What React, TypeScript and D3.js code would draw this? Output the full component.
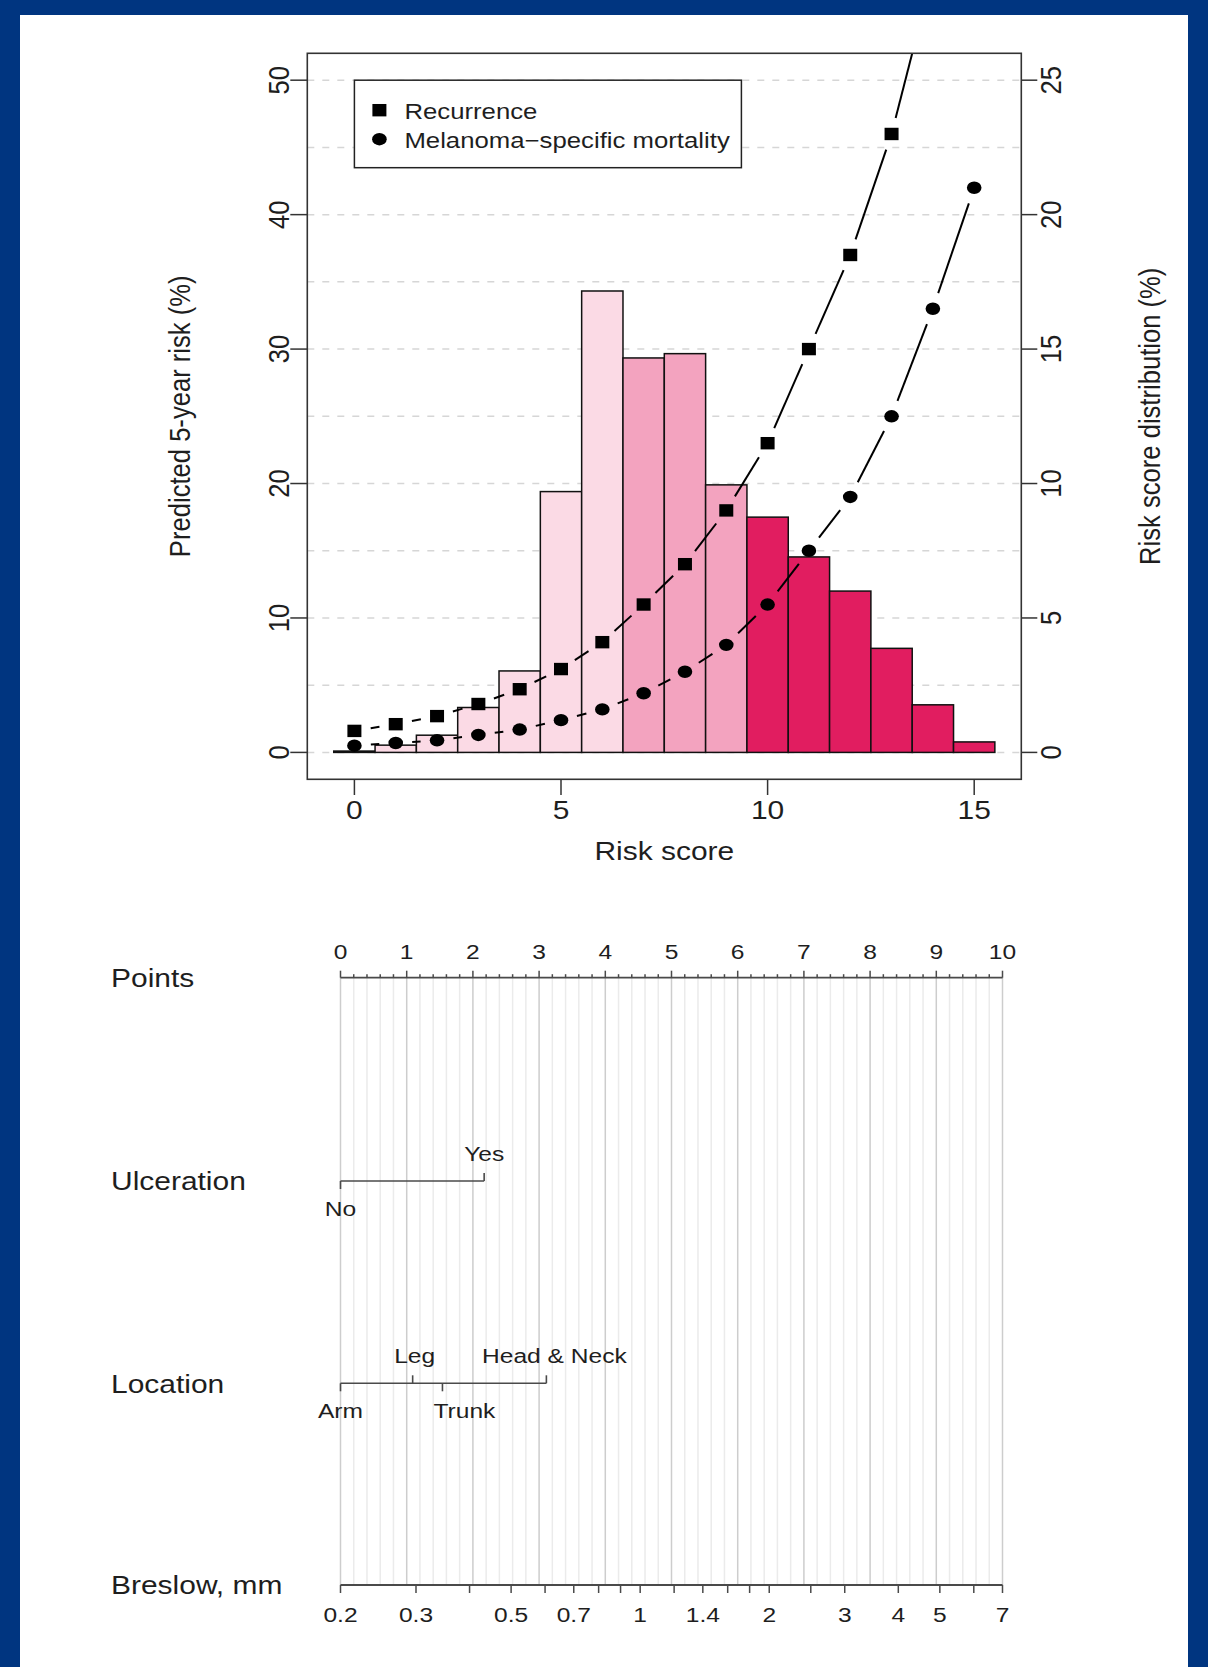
import React from "react";
import * as d3 from "d3";

// risk score histogram + predicted risk curves
const riskScore = [0, 1, 2, 3, 4, 5, 6, 7, 8, 9, 10, 11, 12, 13, 14, 15];
const scoreDistribution = [0.05, 0.27, 0.64, 1.67, 3.03, 9.7, 17.16, 14.67, 14.83, 9.95, 8.75, 7.27, 6.0, 3.87, 1.77, 0.39];
const riskGroup = ["low", "low", "low", "low", "low", "low", "low", "mid", "mid", "mid", "high", "high", "high", "high", "high", "high"];
const recurrenceScore = [0, 1, 2, 3, 4, 5, 6, 7, 8, 9, 10, 11, 12, 13, 14];
const recurrenceRisk = [1.6, 2.1, 2.7, 3.6, 4.7, 6.2, 8.2, 11.0, 14.0, 18.0, 23.0, 30.0, 37.0, 46.0, 58.0];
const mortalityRisk = [0.5, 0.7, 0.9, 1.3, 1.7, 2.4, 3.2, 4.4, 6.0, 8.0, 11.0, 15.0, 19.0, 25.0, 33.0, 42.0];
const xTicks = [0, 5, 10, 15];
const leftTicks = [0, 10, 20, 30, 40, 50];
const rightTicks = [0, 5, 10, 15, 20, 25];
const gridValues = [0, 5, 10, 15, 20, 25, 30, 35, 40, 45, 50];
const legendLabels = ["Recurrence", "Melanoma\u2212specific mortality"];

// nomogram
const pointsTicks = [0, 1, 2, 3, 4, 5, 6, 7, 8, 9, 10];
const ulcerationLevels = ["No", "Yes"];
const ulcerationPoints = [0, 2.17];
const locationLevels = ["Arm", "Leg", "Trunk", "Head & Neck"];
const locationPoints = [0, 1.09, 1.54, 3.11];
const breslowTicks = [0.2, 0.3, 0.4, 0.5, 0.6, 0.7, 0.8, 0.9, 1, 1.2, 1.4, 1.6, 1.8, 2, 2.5, 3, 4, 5, 6, 7];
const breslowLabels = [0.2, 0.3, 0.5, 0.7, 1, 1.4, 2, 3, 4, 5, 7];

const colors = { low: "#FBDAE5", mid: "#F3A3BF", high: "#E11D60" };
const FONT = "'Liberation Sans', Arial, Helvetica, sans-serif";
const SX = 1.17; // text in the picture is stretched sideways
const INK = "#1e1e1e";

function T({ x, y, size, anchor = "middle", rotate = false, children }: any) {
  const tr = `translate(${x},${y}) scale(${SX},1)` + (rotate ? " rotate(-90)" : "");
  return (
    <text transform={tr} fontSize={size} textAnchor={anchor} fontFamily={FONT} fill={INK}>
      {children}
    </text>
  );
}

// type="b" style: segments between points, with a gap round each point
function gapSegments(pts: number[][], gap: number) {
  const out: number[][] = [];
  for (let i = 0; i < pts.length - 1; i++) {
    const [x1, y1] = pts[i];
    const [x2, y2] = pts[i + 1];
    const len = Math.hypot(x2 - x1, y2 - y1);
    if (len <= 2 * gap) continue;
    const ux = (x2 - x1) / len, uy = (y2 - y1) / len;
    out.push([x1 + ux * gap, y1 + uy * gap, x2 - ux * gap, y2 - uy * gap]);
  }
  return out;
}

function Square({ cx, cy }: any) {
  return <rect x={cx - 7} y={cy - 6.2} width={14} height={12.4} fill="#000" />;
}
function Dot({ cx, cy }: any) {
  return <ellipse cx={cx} cy={cy} rx={7.3} ry={6.2} fill="#000" />;
}

function RiskChart() {
  const left = 307.3, right = 1021.3, top = 53.3, bottom = 779.3;
  const x = d3.scaleLinear().domain([-1.14, 16.14]).range([left, right]);
  const yL = d3.scaleLinear().domain([-2, 52]).range([bottom, top]);
  const yR = d3.scaleLinear().domain([-1, 26]).range([bottom, top]);
  const tickF = 25.6;
  const half = 0.358 * tickF * SX;

  const recPts = recurrenceScore.map((s, i) => [x(s), yL(recurrenceRisk[i])]);
  const morPts = riskScore.map((s, i) => [x(s), yL(mortalityRisk[i])]);
  const lx = x(0), ly = yL(50);

  return (
    <g>
      <defs>
        <clipPath id="plotClip">
          <rect x={left} y={top} width={right - left} height={bottom - top} />
        </clipPath>
      </defs>
      {gridValues.map((v) => (
        <line key={v} x1={left} x2={right} y1={yL(v)} y2={yL(v)} stroke="#d6d6d6" strokeWidth={1.5} strokeDasharray="7,8" />
      ))}
      {riskScore.map((s, i) => (
        <rect
          key={s}
          x={x(s - 0.5)}
          y={yR(scoreDistribution[i])}
          width={x(s + 0.5) - x(s - 0.5)}
          height={yR(0) - yR(scoreDistribution[i])}
          fill={colors[riskGroup[i]]}
          stroke="#111"
          strokeWidth={1.5}
        />
      ))}
      <g clipPath="url(#plotClip)">
        {[recPts, morPts].map((pts, k) =>
          gapSegments(pts, 16.5).map((sg, j) => (
            <line key={k + "-" + j} x1={sg[0]} y1={sg[1]} x2={sg[2]} y2={sg[3]} stroke="#000" strokeWidth={2} />
          ))
        )}
        {recPts.map((p, i) => <Square key={"r" + i} cx={p[0]} cy={p[1]} />)}
        {morPts.map((p, i) => <Dot key={"m" + i} cx={p[0]} cy={p[1]} />)}
      </g>

      {/* legend */}
      <rect x={lx} y={ly} width={387} height={87.5} fill="#fff" stroke="#222" strokeWidth={1.5} />
      <Square cx={lx + 25} cy={ly + 30} />
      <Dot cx={lx + 25} cy={ly + 59} />
      <T x={lx + 50} y={ly + 38.5} size={22} anchor="start">{legendLabels[0]}</T>
      <T x={lx + 50} y={ly + 67.5} size={22} anchor="start">{legendLabels[1]}</T>

      <rect x={left} y={top} width={right - left} height={bottom - top} fill="none" stroke="#333" strokeWidth={1.6} />

      {/* x axis */}
      {xTicks.map((t) => (
        <g key={t}>
          <line x1={x(t)} x2={x(t)} y1={bottom} y2={bottom + 15.7} stroke="#333" strokeWidth={1.5} />
          <T x={x(t)} y={819.2} size={tickF}>{t}</T>
        </g>
      ))}
      <T x={(left + right) / 2} y={860} size={tickF}>Risk score</T>

      {/* left axis */}
      {leftTicks.map((t) => (
        <g key={t}>
          <line x1={left - 17} x2={left} y1={yL(t)} y2={yL(t)} stroke="#333" strokeWidth={1.5} />
          <T x={278 + half} y={yL(t)} size={tickF} rotate>{t}</T>
        </g>
      ))}
      <T x={179 + half} y={(top + bottom) / 2} size={tickF} rotate>Predicted 5-year risk (%)</T>

      {/* right axis */}
      {rightTicks.map((t) => (
        <g key={t}>
          <line x1={right} x2={right + 16} y1={yR(t)} y2={yR(t)} stroke="#333" strokeWidth={1.5} />
          <T x={1050 + half} y={yR(t)} size={tickF} rotate>{t}</T>
        </g>
      ))}
      <T x={1149 + half} y={(top + bottom) / 2} size={tickF} rotate>Risk score distribution (%)</T>
    </g>
  );
}

function Nomogram() {
  const px = d3.scaleLinear().domain([0, 10]).range([340.5, 1002.5]);
  const bx = d3.scaleLog().domain([0.2, 7]).range([px(0), px(10)]);
  const rowF = 25.6, valF = 21;
  const pointsY = 977.7, ulcY = 1181, locY = 1383.3, breY = 1585;
  const minor = px.ticks(40);
  const axisStroke = "#4a4a4a";

  const catRow = (levels: string[], pts: number[], y: number, dx: number[]) => (
    <g>
      <line x1={px(d3.min(pts))} x2={px(d3.max(pts))} y1={y} y2={y} stroke={axisStroke} strokeWidth={1.6} />
      {levels.map((lv, i) => {
        const up = i % 2 === 1;
        return (
          <g key={lv}>
            <line x1={px(pts[i])} x2={px(pts[i])} y1={y} y2={up ? y - 8 : y + 8} stroke={axisStroke} strokeWidth={1.6} />
            <T x={px(pts[i]) + dx[i]} y={up ? y - 20 : y + 35} size={valF}>{lv}</T>
          </g>
        );
      })}
    </g>
  );

  return (
    <g>
      {minor.map((t) => (
        <line
          key={t}
          x1={px(t)}
          x2={px(t)}
          y1={pointsY}
          y2={breY}
          stroke={Number.isInteger(t) ? "#cdcdcd" : "#ebebeb"}
          strokeWidth={1.5}
        />
      ))}

      <T x={111} y={pointsY + 9.2} size={rowF} anchor="start">Points</T>
      <T x={111} y={ulcY + 9.2} size={rowF} anchor="start">Ulceration</T>
      <T x={111} y={locY + 9.2} size={rowF} anchor="start">Location</T>
      <T x={111} y={breY + 9.2} size={rowF} anchor="start">Breslow, mm</T>

      {/* points axis */}
      <line x1={px(0)} x2={px(10)} y1={pointsY} y2={pointsY} stroke={axisStroke} strokeWidth={1.8} />
      {minor.map((t) => (
        <line key={t} x1={px(t)} x2={px(t)} y1={pointsY} y2={pointsY - (Number.isInteger(t) ? 7 : 3.5)} stroke={axisStroke} strokeWidth={1.5} />
      ))}
      {pointsTicks.map((t) => (
        <T key={t} x={px(t)} y={pointsY - 18.5} size={valF}>{t}</T>
      ))}

      {catRow(ulcerationLevels, ulcerationPoints, ulcY, [0, 0])}
      {catRow(locationLevels, locationPoints, locY, [0, 2, 22, 8])}

      {/* breslow axis */}
      <line x1={bx(0.2)} x2={bx(7)} y1={breY} y2={breY} stroke={axisStroke} strokeWidth={1.8} />
      {breslowTicks.map((t) => (
        <line key={t} x1={bx(t)} x2={bx(t)} y1={breY} y2={breY + 8} stroke={axisStroke} strokeWidth={1.5} />
      ))}
      {breslowLabels.map((t) => (
        <T key={t} x={bx(t)} y={breY + 36.5} size={valF}>{t}</T>
      ))}
    </g>
  );
}

export default function App() {
  return (
    <svg
      width={1208}
      height={1667}
      viewBox="0 0 1208 1667"
      style={{ position: "absolute", left: 0, top: 0, display: "block" }}
    >
      <rect x={0} y={0} width={1208} height={1667} fill="#003580" />
      <rect x={20} y={15} width={1168} height={1652} fill="#ffffff" />
      <RiskChart />
      <Nomogram />
    </svg>
  );
}
